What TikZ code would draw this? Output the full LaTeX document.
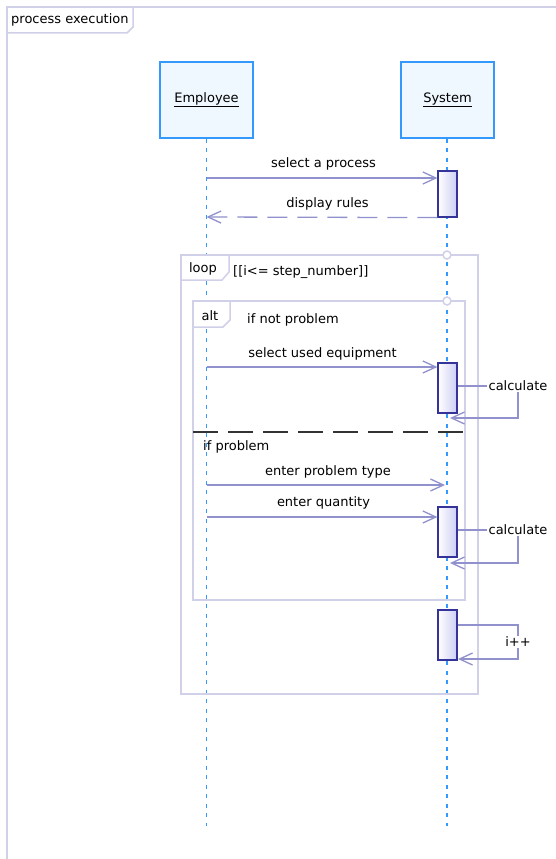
\documentclass[tikz,border=0pt]{standalone}
\usepackage{fontspec}
\setmainfont{DejaVu Sans}
\usetikzlibrary{arrows.meta}

\definecolor{framecol}{RGB}{208,208,232}
\definecolor{lifecol}{RGB}{51,153,255}
\definecolor{actorfill}{RGB}{240,248,255}
\definecolor{msgcol}{RGB}{145,145,205}
\definecolor{actcol}{RGB}{51,51,153}
\definecolor{actshade}{RGB}{205,205,245}

\begin{document}
\begin{tikzpicture}[x=1pt, y=-1pt,
  every node/.style={font=\fontsize{13}{15}\selectfont, inner sep=2pt},
  outerline/.style={draw=framecol, line width=1.5pt},
  frameline/.style={draw=framecol, line width=2.6pt},
  tagbox/.style={draw=framecol, line width=1.5pt, fill=white},
  actor/.style={draw=lifecol, line width=1.6pt, fill=actorfill, minimum width=93pt, minimum height=76pt},
  lifeline/.style={draw=lifecol, line width=1.6pt, dash pattern=on 4pt off 5.5pt},
  activation/.style={draw=actcol, line width=1.2pt, left color=white, right color=actshade, minimum width=19pt, inner sep=0pt},
  msg/.style={draw=msgcol, line width=1.3pt},
  arr/.style={-{Straight Barb[length=13pt,width=12pt]}},
  reply/.style={msg, arr, dash pattern=on 20pt off 10pt},
  sep/.style={draw=black!80, line width=1.5pt, dash pattern=on 25pt off 10pt},
  guard/.style={circle, draw=framecol, line width=1.5pt, fill=white, minimum size=8pt, inner sep=0pt},
  selflabel/.style={fill=white, inner sep=1pt}]
\useasboundingbox (0,0) rectangle (555,859);

% Outer frame
\draw[tagbox] (7,7) -- (133,7) -- (133,27) -- (127,33) -- (7,33);
\draw[outerline] (560,7) -- (7,7) -- (7,870);
\node[anchor=west] (title) at (9,20) {process execution};

% Lifelines
\node[actor] (emp) at (206.5,100) {\underline{Employee}};
\node[actor] (sys) at (447.5,100) {\underline{System}};
\coordinate (empend) at (206.5,826);
\coordinate (sysend) at (447,826);
\draw[lifeline] (emp.south) -- (empend);
\draw[lifeline] (sys.south -| sysend) -- (sysend);

% Loop fragment
\draw[tagbox] (181,255) -- (229,255) -- (229,272) -- (222,280) -- (181,280);
\draw[frameline] (181,255) rectangle (478,694);
\node (loop) at (203,269) {loop};
\node[anchor=west] (cond) at (231,272) {[[i<= step\_number]]};

% Alt fragment
\draw[tagbox] (193,301) -- (230,301) -- (230,320) -- (223,327) -- (193,327);
\draw[frameline] (193,301) rectangle (465,600);
\node (alt) at (210,316) {alt};
\node[anchor=west] (notprob) at (245,320) {if not problem};
\draw[sep] (193,432) -- (465,432);
\node[anchor=west] (prob) at (201,447) {if problem};

\node[guard] (g1) at (447,255) {};
\node[guard] (g2) at (447,301) {};

% Select process
\coordinate (m1) at (206.5,178);
\node[activation, minimum height=46pt] (act1) at (447.5,194) {};
\draw[msg, arr] (m1) -- (m1 -| act1.west);
\node (l1) at (323.5,164) {select a process};
\coordinate (m2) at (206.5,217);
\draw[reply] (act1.south west) -- (m2);
\node (l2) at (327.5,204) {display rules};

% If not problem
\coordinate (m3) at (206.5,367);
\node[activation, minimum height=50pt] (act2) at (447.5,388) {};
\draw[msg, arr] (m3) -- (m3 -| act2.west);
\node (l3) at (322.5,354) {select used equipment};
\node[selflabel] (calc1) at (518,386) {calculate};
\coordinate (r1) at (450,418);
\draw[msg] (act2.east |- calc1) -- (calc1.west);
\draw[msg, arr] (calc1.south) |- (r1);

% If problem
\coordinate (m4) at (206.5,485);
\coordinate (m4e) at (445,485);
\draw[msg, arr] (m4) -- (m4e);
\node (l4) at (328,472) {enter problem type};
\coordinate (m5) at (206.5,517);
\node[activation, minimum height=50pt] (act3) at (447.5,532) {};
\draw[msg, arr] (m5) -- (m5 -| act3.west);
\node (l5) at (323.5,503) {enter quantity};
\node[selflabel] (calc2) at (518,530) {calculate};
\coordinate (r2) at (450,563);
\draw[msg] (act3.east |- calc2) -- (calc2.west);
\draw[msg, arr] (calc2.south) |- (r2);

% Counter
\node[activation, minimum height=50pt] (act4) at (447.5,635) {};
\node[selflabel] (inc) at (518,642) {i++};
\coordinate (i1) at (518,625);
\coordinate (r3) at (458,659);
\draw[msg] (act4.east |- i1) -- (i1) -- (inc.north);
\draw[msg, arr] (inc.south) |- (r3);
\end{tikzpicture}
\end{document}
